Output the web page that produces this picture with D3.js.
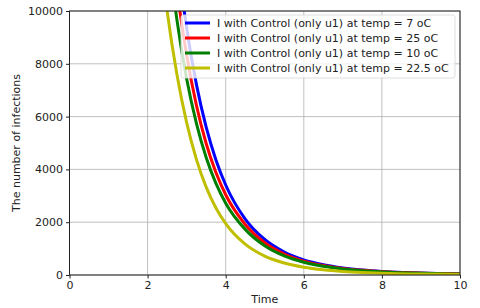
<!DOCTYPE html>
<html>
<head>
<meta charset="utf-8">
<script src="https://cdn.jsdelivr.net/npm/d3@7"></script>
<style>
  body { margin: 0; background: #fff; }
  svg { display: block; font-family: "DejaVu Sans", sans-serif; }
</style>
</head>
<body>
<div id="chart"></div>
<script>
// values
const times = [2.25, 2.5, 2.75, 3.0, 3.25, 3.5, 3.75, 4.0, 4.5, 5.0, 5.5, 6.0, 6.5, 7.0, 7.5, 8.0, 9.0, 10.0];
const temp7 = [21000, 15960, 12190, 9360, 7220, 5600, 4360, 3410, 2120, 1345, 870, 575, 390, 269, 190, 136, 74, 41];
const temp25 = [18700, 14200, 10850, 8330, 6430, 4980, 3880, 3040, 1915, 1220, 793, 526, 358, 248, 176, 126, 69, 38];
const temp10 = [16700, 12670, 9680, 7430, 5740, 4450, 3470, 2720, 1728, 1105, 720, 482, 330, 229, 163, 118, 65, 36];
const temp22_5 = [13160, 10000, 7600, 5770, 4380, 3330, 2540, 1950, 1170, 717, 454, 296, 199, 137, 97, 70, 38, 21];

const seriesNames = [
  "I with Control (only u1) at temp = 7 oC",
  "I with Control (only u1) at temp = 25 oC",
  "I with Control (only u1) at temp = 10 oC",
  "I with Control (only u1) at temp = 22.5 oC"
];
const seriesValues = [temp7, temp25, temp10, temp22_5];
const colors = ["#0000ff", "#ff0000", "#008000", "#bfbf00"];

const xTicks = [0, 2, 4, 6, 8, 10];
const yTicks = [0, 2000, 4000, 6000, 8000, 10000];

const width = 480, height = 308;
const margin = { top: 11, right: 20, bottom: 33, left: 69.5 };

const svg = d3.select("#chart").append("svg")
  .attr("width", width)
  .attr("height", height);

const x = d3.scaleLinear().domain([0, 10]).range([margin.left, width - margin.right]);
const y = d3.scaleLinear().domain([0, 10000]).range([height - margin.bottom, margin.top]);

// grid
svg.append("g")
  .selectAll("line")
  .data(xTicks)
  .join("line")
  .attr("x1", d => x(d)).attr("x2", d => x(d))
  .attr("y1", y(0)).attr("y2", y(10000))
  .attr("stroke", "#b0b0b0").attr("stroke-width", 0.8);
svg.append("g")
  .selectAll("line")
  .data(yTicks)
  .join("line")
  .attr("y1", d => y(d)).attr("y2", d => y(d))
  .attr("x1", x(0)).attr("x2", x(10))
  .attr("stroke", "#b0b0b0").attr("stroke-width", 0.8);

svg.append("clipPath").attr("id", "clip")
  .append("rect")
  .attr("x", x(0)).attr("y", y(10000))
  .attr("width", x(10) - x(0)).attr("height", y(0) - y(10000));

const line = d3.line()
  .curve(d3.curveMonotoneX)
  .x((d, i) => x(times[i]))
  .y(d => y(d));

svg.append("g").attr("clip-path", "url(#clip)")
  .selectAll("path")
  .data(seriesValues)
  .join("path")
  .attr("fill", "none")
  .attr("stroke", (d, i) => colors[i])
  .attr("stroke-width", 3)
  .attr("stroke-linejoin", "round")
  .attr("d", line);

// axes
const xAxis = svg.append("g")
  .attr("transform", `translate(0,${y(0)})`)
  .call(d3.axisBottom(x).tickValues(xTicks).tickSize(3.5).tickPadding(3).tickFormat(d3.format("d")));
const yAxis = svg.append("g")
  .attr("transform", `translate(${x(0)},0)`)
  .call(d3.axisLeft(y).tickValues(yTicks).tickSize(3.5).tickPadding(3).tickFormat(d3.format("d")));
[xAxis, yAxis].forEach(g => {
  g.select(".domain").remove();
  g.selectAll("text").attr("font-size", 11).attr("fill", "#222").attr("font-family", "DejaVu Sans, sans-serif");
  g.selectAll(".tick line").attr("stroke", "#222");
});

// frame
svg.append("rect")
  .attr("x", x(0)).attr("y", y(10000))
  .attr("width", x(10) - x(0)).attr("height", y(0) - y(10000))
  .attr("fill", "none").attr("stroke", "#222").attr("stroke-width", 1);

// axis labels
svg.append("text")
  .attr("x", (x(0) + x(10)) / 2).attr("y", 303)
  .attr("text-anchor", "middle").attr("font-size", 11).attr("fill", "#222")
  .text("Time");
svg.append("text")
  .attr("transform", `translate(20,${(y(0) + y(10000)) / 2}) rotate(-90)`)
  .attr("text-anchor", "middle").attr("font-size", 11).attr("fill", "#222")
  .text("The number of infections");

// legend
const legend = svg.append("g").attr("transform", "translate(181,15)");
legend.append("rect")
  .attr("width", 274).attr("height", 63).attr("rx", 2.5)
  .attr("fill", "#fff").attr("fill-opacity", 0.8)
  .attr("stroke", "#d6d6d6").attr("stroke-width", 0.8);
const items = legend.selectAll("g")
  .data(seriesNames)
  .join("g")
  .attr("transform", (d, i) => `translate(0,${8 + i * 15})`);
items.append("line")
  .attr("x1", 4).attr("x2", 29)
  .attr("stroke", (d, i) => colors[i]).attr("stroke-width", 3);
items.append("text")
  .attr("x", 36).attr("dy", "0.35em")
  .attr("font-size", 11).attr("fill", "#222")
  .text(d => d);
</script>
</body>
</html>
